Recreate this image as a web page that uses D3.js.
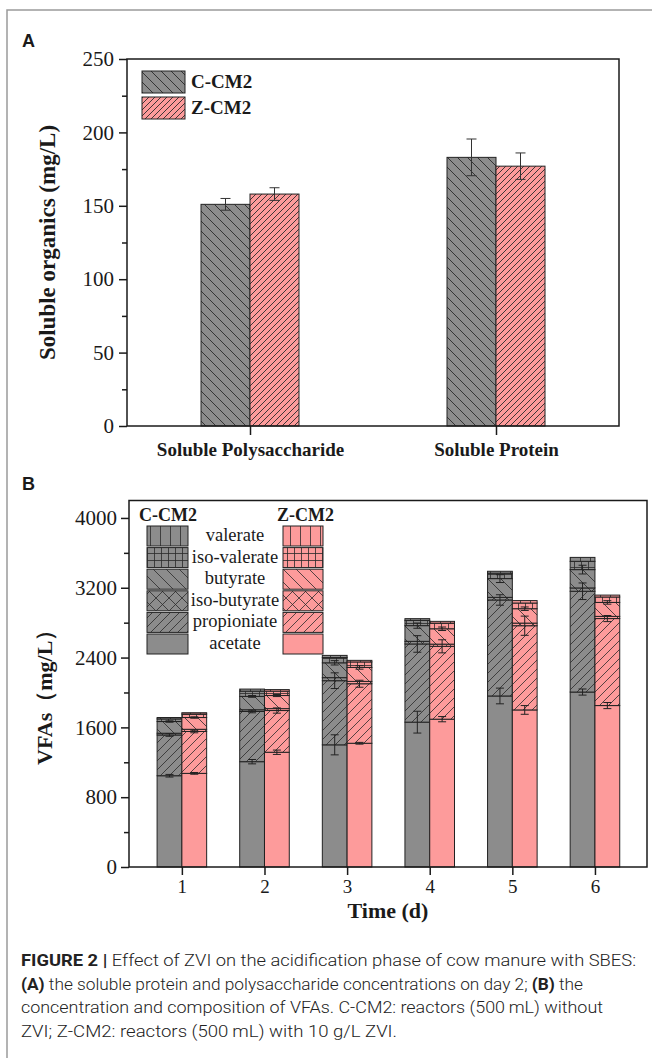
<!DOCTYPE html>
<html>
<head>
<meta charset="utf-8">
<script src="https://cdn.jsdelivr.net/npm/d3@7"></script>
<style>
  html, body { margin: 0; padding: 0; background: #fff; }
  svg { display: block; }
</style>
</head>
<body>
<svg id="chart" width="652" height="1058"></svg>
<script>
// ---------- Panel A data ----------
const catsA = ["Soluble Polysaccharide", "Soluble Protein"];
const groupsA = ["C-CM2", "Z-CM2"];
const valuesC_A = [151, 183];
const valuesZ_A = [158, 177];
const errC_A = [4, 12.5];
const errZ_A = [4.3, 9];
const ticksA = [0, 50, 100, 150, 200, 250];
const minorTicksA = [25, 75, 125, 175, 225];

// ---------- Panel B data ----------
const days = [1, 2, 3, 4, 5, 6];
const acids = ["acetate", "propionate", "iso-butyrate", "butyrate", "iso-valerate", "valerate"];
const legendLabels = ["valerate", "iso-valerate", "butyrate", "iso-butyrate", "propioniate", "acetate"];
const cAcetate     = [1046, 1207, 1400, 1660, 1960, 2005];
const cPropionate  = [467, 575, 735, 896, 1100, 1155];
const cIsoButyrate = [20, 20, 35, 30, 30, 38];
const cButyrate    = [134, 153, 170, 180, 215, 210];
const cIsoValerate = [30, 60, 60, 60, 62, 95];
const cValerate    = [16, 24, 25, 20, 22, 45];
const zAcetate     = [1073, 1315, 1418, 1694, 1800, 1850];
const zPropionate  = [480, 478, 682, 835, 965, 997];
const zIsoButyrate = [25, 22, 27, 25, 30, 25];
const zButyrate    = [135, 150, 160, 176, 165, 160];
const zIsoValerate = [40, 50, 63, 65, 65, 62];
const zValerate    = [15, 18, 18, 20, 28, 22];
// error bars (mg/L) drawn at the top of the segment
const cAcetateErr    = [15, 25, 115, 125, 90, 35];
const cPropionateErr = [15, 15, 90, 95, 60, 95];
const cButyrateErr   = [8, 10, 25, 30, 45, 50];
const zAcetateErr    = [10, 25, 10, 30, 50, 35];
const zPropionateErr = [15, 30, 40, 75, 110, 35];
const zButyrateErr   = [8, 12, 20, 20, 20, 20];
const ticksB = [0, 800, 1600, 2400, 3200, 4000];
const minorTicksB = [400, 1200, 2000, 2800, 3600];

const captionLines = [
  [["FIGURE 2 | ", true], ["Effect of ZVI on the acidification phase of cow manure with SBES:", false]],
  [["(A)", true], [" the soluble protein and polysaccharide concentrations on day 2; ", false], ["(B)", true], [" the", false]],
  [["concentration and composition of VFAs. C-CM2: reactors (500\u2009mL) without", false]],
  [["ZVI; Z-CM2: reactors (500\u2009mL) with 10 g/L ZVI.", false]]
];
const captionWidths = [615, 562, 582, 376];

// ---------- styling ----------
const GRAY = "#8c8c8c";
const PINK = "#fd9b9b";
const INK = "#1a1a1a";
const SERIF = "'Liberation Serif', 'Times New Roman', serif";

const svg = d3.select("#chart");
const defs = svg.append("defs");

function pattern(id, bg, size, d, sw = 0.8) {
  const p = defs.append("pattern").attr("id", id).attr("patternUnits", "userSpaceOnUse")
    .attr("width", size).attr("height", size);
  p.append("rect").attr("width", size).attr("height", size).attr("fill", bg);
  if (d) p.append("path").attr("d", d).attr("stroke", "#2a2a2a").attr("stroke-width", sw).attr("fill", "none");
}
const fwd = s => `M-1,1 l2,-2 M0,${s} l${s},${-s} M${s - 1},${s + 1} l2,-2`;
const bwd = s => `M-1,${s - 1} l2,2 M0,0 l${s},${s} M${s - 1},-1 l2,2`;
const cross = s => fwd(s) + " " + bwd(s);
const grid = s => `M0,0.5 H${s} M0.5,0 V${s}`;
const vert = s => `M0.5,0 V${s}`;

// Panel A patterns
pattern("aC", GRAY, 10, bwd(10), 0.9);
pattern("aZ", PINK, 6, fwd(6), 0.9);
// Panel B patterns
[["C", GRAY], ["Z", PINK]].forEach(([k, col]) => {
  pattern("acetate" + k, col, 10, null);
  pattern("propionate" + k, col, 9, fwd(9));
  pattern("iso-butyrate" + k, col, 13, cross(13));
  pattern("butyrate" + k, col, 13, bwd(13));
  pattern("iso-valerate" + k, col, 7, grid(7));
  pattern("valerate" + k, col, 10, vert(10));
});

// ---------- frame & panel letters ----------
svg.append("rect").attr("x", 7).attr("y", 10).attr("width", 700).attr("height", 1100)
  .attr("fill", "none").attr("stroke", "#9a9a9a").attr("stroke-width", 1.5);
svg.append("text").attr("x", 22).attr("y", 47).text("A")
  .attr("font-family", "'Liberation Sans', Arial, sans-serif").attr("font-weight", "bold").attr("font-size", 18).attr("fill", INK);
svg.append("text").attr("x", 22).attr("y", 490).text("B")
  .attr("font-family", "'Liberation Sans', Arial, sans-serif").attr("font-weight", "bold").attr("font-size", 18).attr("fill", INK);

// ================= Panel A =================
const A = { l: 127, r: 619, t: 59, b: 426 };
const yA = d3.scaleLinear().domain([0, 250]).range([A.b, A.t]);
const xA = d3.scalePoint().domain(catsA).range([A.l, A.r]).padding(0.5);
const barWA = 49;
const gA = svg.append("g");

const rowsA = catsA.map((c, i) => ({ cat: c, C: valuesC_A[i], Z: valuesZ_A[i], eC: errC_A[i], eZ: errZ_A[i] }));
rowsA.forEach(r => {
  [["C", -1], ["Z", 0]].forEach(([k, off]) => {
    const x0 = xA(r.cat) + off * barWA;
    gA.append("rect").attr("x", x0).attr("y", yA(r[k])).attr("width", barWA).attr("height", yA(0) - yA(r[k]))
      .attr("fill", `url(#a${k})`).attr("stroke", "#222").attr("stroke-width", 1);
    const cx = x0 + barWA / 2, e = r["e" + k];
    const eb = gA.append("g").attr("stroke", "#333").attr("stroke-width", 1);
    eb.append("line").attr("x1", cx).attr("x2", cx).attr("y1", yA(r[k] + e)).attr("y2", yA(r[k] - e));
    eb.append("line").attr("x1", cx - 5).attr("x2", cx + 5).attr("y1", yA(r[k] + e)).attr("y2", yA(r[k] + e));
    eb.append("line").attr("x1", cx - 5).attr("x2", cx + 5).attr("y1", yA(r[k] - e)).attr("y2", yA(r[k] - e));
  });
});
gA.append("rect").attr("x", A.l).attr("y", A.t).attr("width", A.r - A.l).attr("height", A.b - A.t)
  .attr("fill", "none").attr("stroke", INK).attr("stroke-width", 1.5);
const axA = gA.append("g").attr("transform", `translate(${A.l},0)`)
  .call(d3.axisLeft(yA).tickValues(ticksA).tickSize(8).tickPadding(5).tickFormat(d3.format("d")));
const axAm = gA.append("g").attr("transform", `translate(${A.l},0)`)
  .call(d3.axisLeft(yA).tickValues(minorTicksA).tickSize(5).tickFormat(""));
const axAx = gA.append("g").attr("transform", `translate(0,${A.b})`)
  .call(d3.axisBottom(xA).tickSize(9).tickPadding(8));
[axA, axAm, axAx].forEach(g => {
  g.select(".domain").remove();
  g.selectAll("line").attr("stroke", INK).attr("stroke-width", 1.5);
});
axA.selectAll("text").attr("font-family", SERIF).attr("font-size", 21).attr("fill", INK);
axAx.selectAll("text").attr("font-family", SERIF).attr("font-size", 19).attr("font-weight", "bold").attr("fill", INK);
gA.append("text").attr("transform", `translate(55,${(A.t + A.b) / 2}) rotate(-90)`).attr("text-anchor", "middle")
  .attr("font-family", SERIF).attr("font-weight", "bold").attr("font-size", 23).attr("fill", INK)
  .text("Soluble organics (mg/L)");
groupsA.forEach((g, i) => {
  const y0 = 71 + i * 26;
  gA.append("rect").attr("x", 142).attr("y", y0).attr("width", 43).attr("height", 22)
    .attr("fill", `url(#a${i === 0 ? "C" : "Z"})`).attr("stroke", "#222").attr("stroke-width", 1);
  gA.append("text").attr("x", 191).attr("y", y0 + 17).text(g)
    .attr("font-family", SERIF).attr("font-weight", "bold").attr("font-size", 19).attr("fill", INK);
});

// ================= Panel B =================
const B = { l: 129, r: 647, t: 500.5, b: 867 };
const yB = d3.scaleLinear().domain([0, 4200]).range([B.b, B.t]);
const xB = d3.scaleLinear().domain([0.36, 6.63]).range([B.l, B.r]);
const barWB = xB(0.3) - xB(0);
const gB = svg.append("g");

const tableC = days.map((d, i) => ({ day: d, "acetate": cAcetate[i], "propionate": cPropionate[i], "iso-butyrate": cIsoButyrate[i],
  "butyrate": cButyrate[i], "iso-valerate": cIsoValerate[i], "valerate": cValerate[i] }));
const tableZ = days.map((d, i) => ({ day: d, "acetate": zAcetate[i], "propionate": zPropionate[i], "iso-butyrate": zIsoButyrate[i],
  "butyrate": zButyrate[i], "iso-valerate": zIsoValerate[i], "valerate": zValerate[i] }));
const errsC = { "acetate": cAcetateErr, "propionate": cPropionateErr, "butyrate": cButyrateErr };
const errsZ = { "acetate": zAcetateErr, "propionate": zPropionateErr, "butyrate": zButyrateErr };
const stack = d3.stack().keys(acids);

[["C", tableC, errsC, -1], ["Z", tableZ, errsZ, 0]].forEach(([k, table, errs, off]) => {
  const series = stack(table);
  series.forEach(s => {
    gB.append("g").selectAll("rect").data(s).join("rect")
      .attr("x", d => xB(d.data.day) + off * barWB)
      .attr("y", d => yB(d[1]))
      .attr("width", barWB)
      .attr("height", d => yB(d[0]) - yB(d[1]))
      .attr("fill", `url(#${s.key}${k})`)
      .attr("stroke", "#222").attr("stroke-width", 1);
  });
  series.forEach(s => {
    const e = errs[s.key];
    if (!e) return;
    s.forEach((d, i) => {
      const cx = xB(d.data.day) + off * barWB + barWB / 2;
      const top = yB(d[1] + e[i]), bot = yB(d[1] - e[i]);
      const eb = gB.append("g").attr("stroke", "#222").attr("stroke-width", 1);
      eb.append("line").attr("x1", cx).attr("x2", cx).attr("y1", top).attr("y2", bot);
      eb.append("line").attr("x1", cx - 4).attr("x2", cx + 4).attr("y1", top).attr("y2", top);
      eb.append("line").attr("x1", cx - 4).attr("x2", cx + 4).attr("y1", bot).attr("y2", bot);
    });
  });
});
gB.append("rect").attr("x", B.l).attr("y", B.t).attr("width", B.r - B.l).attr("height", B.b - B.t)
  .attr("fill", "none").attr("stroke", INK).attr("stroke-width", 1.5);
const axB = gB.append("g").attr("transform", `translate(${B.l},0)`)
  .call(d3.axisLeft(yB).tickValues(ticksB).tickSize(8).tickPadding(4).tickFormat(d3.format("d")));
const axBm = gB.append("g").attr("transform", `translate(${B.l},0)`)
  .call(d3.axisLeft(yB).tickValues(minorTicksB).tickSize(5).tickFormat(""));
const axBx = gB.append("g").attr("transform", `translate(0,${B.b})`)
  .call(d3.axisBottom(xB).tickValues(days).tickSize(8).tickPadding(5).tickFormat(d3.format("d")));
[axB, axBm, axBx].forEach(g => {
  g.select(".domain").remove();
  g.selectAll("line").attr("stroke", INK).attr("stroke-width", 1.5);
});
axB.selectAll("text").attr("font-family", SERIF).attr("font-size", 21).attr("fill", INK);
axBx.selectAll("text").attr("font-family", SERIF).attr("font-size", 19).attr("fill", INK);
gB.append("text").attr("x", (B.l + B.r) / 2).attr("y", 918).attr("text-anchor", "middle")
  .attr("font-family", SERIF).attr("font-weight", "bold").attr("font-size", 22).attr("fill", INK).text("Time (d)");
gB.append("text").attr("transform", `translate(52,${(B.t + B.b) / 2 + 8}) rotate(-90)`).attr("text-anchor", "middle")
  .attr("font-family", SERIF).attr("font-weight", "bold").attr("font-size", 22).attr("fill", INK)
  .text("VFAs\uFF08mg/L\uFF09");
gB.append("text").attr("x", 139).attr("y", 521).text("C-CM2")
  .attr("font-family", SERIF).attr("font-weight", "bold").attr("font-size", 18).attr("fill", INK);
gB.append("text").attr("x", 277).attr("y", 521).text("Z-CM2")
  .attr("font-family", SERIF).attr("font-weight", "bold").attr("font-size", 18).attr("fill", INK);
const legKeys = acids.slice().reverse();
legKeys.forEach((key, i) => {
  const y0 = 526 + i * 21.6;
  gB.append("rect").attr("x", 147).attr("y", y0).attr("width", 41).attr("height", 20)
    .attr("fill", `url(#${key}C)`).attr("stroke", "#222").attr("stroke-width", 1);
  gB.append("rect").attr("x", 283).attr("y", y0).attr("width", 40).attr("height", 20)
    .attr("fill", `url(#${key}Z)`).attr("stroke", "#222").attr("stroke-width", 1);
  gB.append("text").attr("x", 235).attr("y", y0 + 15).attr("text-anchor", "middle").text(legendLabels[i])
    .attr("font-family", SERIF).attr("font-size", 18.5).attr("fill", INK);
});

// ================= Caption =================
captionLines.forEach((parts, i) => {
  const t = svg.append("text").attr("x", 21).attr("y", 966 + i * 23.5)
    .attr("font-family", "Roboto, 'Liberation Sans', sans-serif").attr("font-size", 16).attr("fill", "#222")
    .attr("textLength", captionWidths[i]).attr("lengthAdjust", "spacingAndGlyphs");
  parts.forEach(([s, bold]) => t.append("tspan").attr("font-weight", bold ? "bold" : 300).text(s));
});
</script>
</body>
</html>
